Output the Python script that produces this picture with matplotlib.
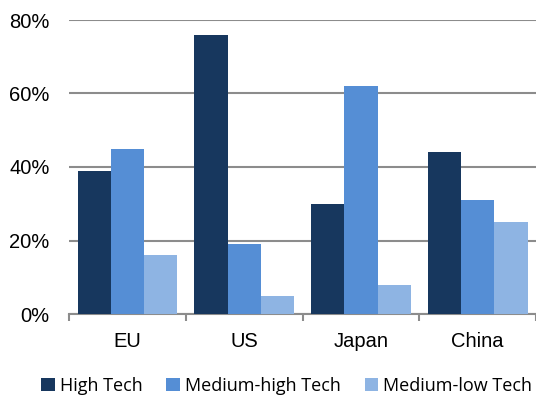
import numpy as np
import matplotlib
matplotlib.use("Agg")
import matplotlib.pyplot as plt
from matplotlib.ticker import FixedLocator, PercentFormatter

# data (share in %)
regions = ["EU", "US", "Japan", "China"]
high_tech = [39, 76, 30, 44]
medium_high = [45, 19, 62, 31]
medium_low = [16, 5, 8, 25]
series_names = ["High Tech", "Medium-high Tech", "Medium-low Tech"]
colors = ["#17375E", "#558ED5", "#8EB4E3"]

fig = plt.figure(figsize=(5.36, 4.0), dpi=100)
ax = fig.add_axes([0.129, 0.215, 0.871, 0.735])

x = np.arange(len(regions))
w = 0.285
for i, (vals, name, c) in enumerate(zip([high_tech, medium_high, medium_low], series_names, colors)):
    ax.bar(x + (i - 1) * w, vals, width=w, color=c, label=name, zorder=3)

ax.set_xlim(-0.5, len(regions) - 0.5)
ax.set_ylim(0, 80)
ax.set_yticks([0, 20, 40, 60, 80])
ax.yaxis.set_major_formatter(PercentFormatter(decimals=0))
ax.yaxis.grid(True, color="#8C8C8C", linewidth=1.5, zorder=0)
ax.tick_params(axis="y", length=0, labelsize=14.5, pad=14)
for lab in ax.get_yticklabels():
    lab.set_family("Liberation Sans")

# category labels, boundary ticks on the baseline
ax.set_xticks(x)
ax.set_xticklabels(regions, family="Liberation Sans", fontsize=14.5)
ax.tick_params(axis="x", which="major", length=0, pad=13)
ax.xaxis.set_minor_locator(FixedLocator(np.arange(-0.5, len(regions), 1.0)))
ax.tick_params(axis="x", which="minor", length=5, width=1.5, color="#8C8C8C", direction="out")

for s in ["top", "right", "left"]:
    ax.spines[s].set_visible(False)
ax.spines["bottom"].set_color("#8C8C8C")
ax.spines["bottom"].set_linewidth(1.5)

fig.legend(loc="center", bbox_to_anchor=(0.535, 0.035), ncol=3, frameon=False,
           prop={"family": "Open Sans", "size": 13}, handlelength=0.75, handleheight=0.75,
           handletextpad=0.3, columnspacing=1.3)

fig.savefig("out.png", dpi=100)
